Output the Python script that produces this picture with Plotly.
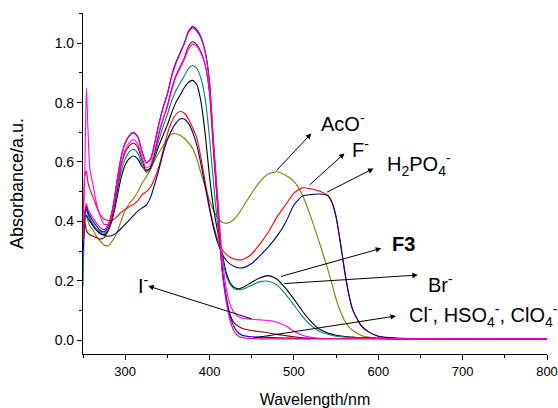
import plotly.graph_objects as go

# Wavelength grid (nm)
wavelength = [250, 252, 254, 256, 258, 262, 266, 270, 275, 280, 285, 290, 295, 300, 305,
              310, 315, 320, 325, 330, 335, 340, 345, 350, 355, 360, 365, 370, 375, 380,
              385, 390, 395, 400, 405, 410, 415, 420, 425, 430, 435, 440, 450, 460, 470,
              480, 490, 500, 510, 520, 530, 540, 545, 550, 555, 560, 565, 570, 580, 590,
              600, 620, 650, 700, 750, 800]

abs_F3 = [0.28, 0.42, 0.45, 0.43, 0.41, 0.385, 0.37, 0.36, 0.355, 0.37, 0.41, 0.475, 0.545, 0.59, 0.612,
          0.62, 0.61, 0.585, 0.572, 0.58, 0.615, 0.655, 0.69, 0.725, 0.765, 0.80, 0.825, 0.85, 0.868, 0.875,
          0.86, 0.80, 0.69, 0.55, 0.44, 0.36, 0.29, 0.225, 0.19, 0.176, 0.173, 0.178, 0.195, 0.21, 0.217,
          0.205, 0.175, 0.138, 0.098, 0.063, 0.037, 0.024, 0.02, 0.016, 0.014, 0.012, 0.011, 0.01, 0.008, 0.007,
          0.006, 0.005, 0.005, 0.004, 0.004, 0.004]

abs_Br = [0.18, 0.40, 0.44, 0.42, 0.41, 0.39, 0.375, 0.365, 0.36, 0.375, 0.42, 0.49, 0.565, 0.61, 0.635,
          0.643, 0.63, 0.59, 0.565, 0.575, 0.62, 0.675, 0.72, 0.76, 0.805, 0.84, 0.865, 0.89, 0.915, 0.925,
          0.915, 0.88, 0.81, 0.68, 0.52, 0.38, 0.28, 0.215, 0.185, 0.172, 0.17, 0.172, 0.185, 0.197, 0.198,
          0.185, 0.155, 0.118, 0.08, 0.05, 0.03, 0.02, 0.016, 0.013, 0.011, 0.01, 0.009, 0.008, 0.007, 0.006,
          0.006, 0.005, 0.005, 0.004, 0.004, 0.004]

abs_AcO = [0.30, 0.40, 0.42, 0.40, 0.385, 0.37, 0.35, 0.335, 0.32, 0.318, 0.335, 0.36, 0.40, 0.437, 0.46,
           0.478, 0.50, 0.528, 0.55, 0.575, 0.605, 0.632, 0.655, 0.677, 0.694, 0.695, 0.69, 0.68, 0.665, 0.645,
           0.61, 0.56, 0.515, 0.47, 0.435, 0.41, 0.397, 0.394, 0.398, 0.41, 0.428, 0.45, 0.495, 0.535, 0.56,
           0.567, 0.555, 0.535, 0.49, 0.415, 0.33, 0.24, 0.19, 0.138, 0.098, 0.066, 0.045, 0.032, 0.015, 0.009,
           0.007, 0.005, 0.005, 0.004, 0.004, 0.004]

abs_F = [0.38, 0.55, 0.57, 0.53, 0.51, 0.48, 0.45, 0.425, 0.408, 0.403, 0.404, 0.415, 0.43, 0.44, 0.45,
         0.458, 0.47, 0.49, 0.50, 0.515, 0.545, 0.585, 0.64, 0.695, 0.735, 0.76, 0.77, 0.765, 0.745, 0.715,
         0.68, 0.61, 0.53, 0.45, 0.385, 0.335, 0.305, 0.288, 0.278, 0.272, 0.27, 0.272, 0.29, 0.325, 0.365,
         0.415, 0.455, 0.495, 0.513, 0.51, 0.502, 0.487, 0.465, 0.415, 0.33, 0.235, 0.155, 0.10, 0.048, 0.025,
         0.013, 0.007, 0.005, 0.004, 0.004, 0.004]

abs_H2PO4 = [0.30, 0.40, 0.42, 0.41, 0.40, 0.385, 0.37, 0.36, 0.353, 0.35, 0.353, 0.362, 0.375, 0.39, 0.405,
             0.42, 0.435, 0.445, 0.455, 0.48, 0.525, 0.575, 0.63, 0.675, 0.707, 0.73, 0.745, 0.745, 0.73, 0.70,
             0.655, 0.59, 0.515, 0.44, 0.375, 0.325, 0.29, 0.268, 0.255, 0.247, 0.243, 0.244, 0.258, 0.285, 0.315,
             0.35, 0.395, 0.455, 0.485, 0.49, 0.492, 0.487, 0.465, 0.415, 0.33, 0.235, 0.155, 0.10, 0.048, 0.025,
             0.013, 0.007, 0.005, 0.004, 0.004, 0.004]

abs_I = [0.35, 0.55, 0.85, 0.70, 0.58, 0.52, 0.46, 0.42, 0.39, 0.39, 0.43, 0.51, 0.59, 0.64, 0.665,
         0.675, 0.66, 0.615, 0.58, 0.59, 0.64, 0.70, 0.745, 0.785, 0.84, 0.885, 0.915, 0.945, 0.98, 0.997,
         0.99, 0.965, 0.925, 0.84, 0.66, 0.47, 0.28, 0.17, 0.115, 0.09, 0.078, 0.073, 0.07, 0.068, 0.066,
         0.06, 0.048, 0.03, 0.016, 0.009, 0.006, 0.005, 0.005, 0.005, 0.005, 0.005, 0.005, 0.005, 0.005, 0.005,
         0.005, 0.004, 0.004, 0.004, 0.004, 0.004]

abs_Cl = [0.30, 0.40, 0.37, 0.36, 0.355, 0.35, 0.345, 0.34, 0.345, 0.37, 0.42, 0.50, 0.585, 0.632, 0.655,
          0.664, 0.65, 0.605, 0.57, 0.58, 0.632, 0.695, 0.745, 0.79, 0.845, 0.89, 0.92, 0.95, 0.99, 1.005,
          0.995, 0.97, 0.925, 0.83, 0.62, 0.43, 0.235, 0.14, 0.08, 0.055, 0.045, 0.038, 0.032, 0.028, 0.024,
          0.019, 0.015, 0.011, 0.008, 0.006, 0.005, 0.005, 0.005, 0.005, 0.005, 0.005, 0.005, 0.005, 0.005, 0.005,
          0.005, 0.004, 0.004, 0.004, 0.004, 0.004]

abs_HSO4 = [0.30, 0.42, 0.45, 0.43, 0.42, 0.40, 0.385, 0.37, 0.365, 0.385, 0.44, 0.53, 0.615, 0.665, 0.69,
            0.70, 0.685, 0.635, 0.598, 0.61, 0.665, 0.73, 0.785, 0.83, 0.89, 0.935, 0.968, 1.0, 1.04, 1.056,
            1.045, 1.02, 0.97, 0.87, 0.65, 0.45, 0.24, 0.14, 0.075, 0.04, 0.022, 0.015, 0.011, 0.01, 0.009,
            0.008, 0.007, 0.006, 0.005, 0.005, 0.005, 0.005, 0.005, 0.005, 0.005, 0.005, 0.005, 0.005, 0.005, 0.005,
            0.005, 0.004, 0.004, 0.004, 0.004, 0.004]

abs_ClO4 = [0.33, 0.43, 0.46, 0.44, 0.43, 0.41, 0.395, 0.38, 0.372, 0.39, 0.44, 0.53, 0.612, 0.662, 0.688,
            0.698, 0.683, 0.633, 0.596, 0.608, 0.662, 0.727, 0.782, 0.827, 0.886, 0.93, 0.964, 0.997, 1.036, 1.052,
            1.04, 1.015, 0.965, 0.865, 0.64, 0.44, 0.23, 0.125, 0.06, 0.025, 0.012, 0.008, 0.005, 0.004, 0.004,
            0.004, 0.004, 0.004, 0.004, 0.004, 0.004, 0.004, 0.004, 0.004, 0.004, 0.004, 0.004, 0.004, 0.004, 0.004,
            0.004, 0.003, 0.003, 0.003, 0.003, 0.003]

series = [
    ("AcO-", abs_AcO, "#808000"),
    ("F-", abs_F, "#FF0000"),
    ("H2PO4-", abs_H2PO4, "#000080"),
    ("F3", abs_F3, "#000000"),
    ("Br-", abs_Br, "#008080"),
    ("Cl-", abs_Cl, "#800000"),
    ("HSO4-", abs_HSO4, "#0000FF"),
    ("I-", abs_I, "#FF00FF"),
    ("ClO4-", abs_ClO4, "#FF0080"),
]

fig = go.Figure()
for name, vals, color in series:
    fig.add_trace(go.Scatter(x=wavelength, y=vals, mode="lines", name=name,
                             line=dict(color=color, width=1.1, shape="spline", smoothing=0.6)))

FONT = "Liberation Sans, Arial, sans-serif"
LBL = 20

arrows = [
    ((520.6, 0.696), (478, 0.567)),
    ((560.0, 0.629), (516.7, 0.518)),
    ((594.4, 0.578), (537.6, 0.496)),
    ((603.5, 0.309), (483, 0.213)),
    ((646.8, 0.219), (487, 0.190)),
    ((621.0, 0.081), (449.6, 0.006)),
    ((327.3, 0.182), (451.5, 0.070)),
]
for (hx, hy), (tx, ty) in arrows:
    fig.add_annotation(x=hx, y=hy, ax=tx, ay=ty, xref="x", yref="y", axref="x", ayref="y",
                       text="", showarrow=True, arrowhead=2, arrowsize=1.1, arrowwidth=1,
                       arrowcolor="black", standoff=0, startstandoff=0)

labels = [
    ("AcO<sup>-</sup>", 529.5, 0.732),
    ("F<sup>-</sup>", 566.5, 0.644),
    ("H<sub>2</sub>PO<sub>4</sub><sup>-</sup>", 607.5, 0.592),
    ("<b>F3</b>", 613.5, 0.325),
    ("Br<sup>-</sup>", 656.5, 0.190),
    ("Cl<sup>-</sup>, HSO<sub>4</sub><sup>-</sup>, ClO<sub>4</sub><sup>-</sup>", 634.0, 0.082),
    ("I<sup>-</sup>", 313.0, 0.188),
]
for txt, x, y in labels:
    fig.add_annotation(x=x, y=y, xref="x", yref="y", text=txt, showarrow=False,
                       xanchor="left", yanchor="middle", font=dict(size=LBL, family=FONT, color="black"))

fig.update_layout(
    width=558, height=408,
    margin=dict(l=83, r=11, t=13, b=54),
    plot_bgcolor="white", paper_bgcolor="white",
    showlegend=False,
    font=dict(family=FONT, color="black", size=13),
)
fig.update_xaxes(
    range=[250, 800], showline=True, linecolor="black", linewidth=1.2,
    ticks="outside", ticklen=5, tickwidth=1.2, tickcolor="black",
    tick0=0, dtick=100, showgrid=False, zeroline=False, automargin=False,
    ticklabeloverflow="allow",
    minor=dict(ticks="outside", ticklen=3, tickwidth=1.2, tickcolor="black", dtick=50, showgrid=False),
    tickfont=dict(size=13, family=FONT),
    title=dict(text="Wavelength/nm", font=dict(size=16, family=FONT), standoff=16),
)
fig.update_yaxes(
    range=[-0.047, 1.102], showline=True, linecolor="black", linewidth=1.2,
    ticks="outside", ticklen=5, tickwidth=1.2, tickcolor="black",
    tick0=0, dtick=0.2, tickformat=".1f", showgrid=False, zeroline=False, automargin=False,
    minor=dict(ticks="outside", ticklen=3, tickwidth=1.2, tickcolor="black", dtick=0.1, showgrid=False),
    tickfont=dict(size=14, family=FONT),
    title=dict(text="Absorbance/a.u.", font=dict(size=18, family=FONT), standoff=26),
)

fig.write_html("out.html")
